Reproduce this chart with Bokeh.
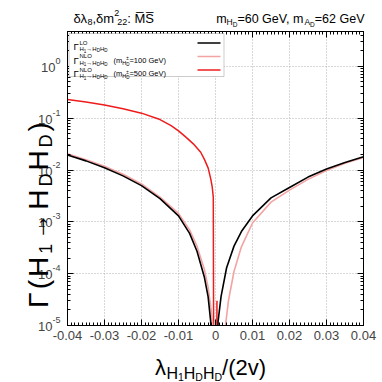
import numpy as np
from jinja2 import Template
from bokeh.plotting import figure
from bokeh.models import (Range1d, FixedTicker, LinearAxis, LogAxis, Label, LogScale,
                          BoxAnnotation, CustomJSTickFormatter)
from bokeh.embed import file_html
from bokeh.resources import INLINE

# ---------------- data ----------------
lam_lo = [-0.040, -0.035, -0.030, -0.025, -0.020, -0.015, -0.010, -0.007, -0.005,
          -0.003, -0.002, -0.0013, -0.0003, 0.0007, 0.0015, 0.003, 0.005, 0.007,
          0.010, 0.015, 0.020, 0.025, 0.030, 0.035, 0.040]
gam_lo = [1.95e-2, 1.50e-2, 1.10e-2, 7.7e-3, 5.0e-3, 2.8e-3, 1.3e-3, 6.0e-4, 2.7e-4,
          8.5e-5, 3.6e-5, 1.2e-5, 1e-8, 1.2e-5, 3.6e-5, 1.3e-4, 3.4e-4, 6.5e-4,
          1.3e-3, 2.9e-3, 4.6e-3, 7.3e-3, 1.05e-2, 1.40e-2, 1.80e-2]

lam_nlo100 = [-0.040, -0.035, -0.030, -0.025, -0.020, -0.015, -0.010, -0.007, -0.005,
              -0.003, -0.002, -0.001, -0.0006, 0.001, 0.0027, 0.0035, 0.005, 0.007,
              0.010, 0.015, 0.020, 0.025, 0.030, 0.035, 0.040]
gam_nlo100 = [2.05e-2, 1.58e-2, 1.18e-2, 8.3e-3, 5.4e-3, 3.0e-3, 1.45e-3, 7.0e-4, 3.4e-4,
              1.2e-4, 5.5e-5, 1.6e-5, 7e-6, 1e-8, 1.0e-5, 3.0e-5, 1.1e-4, 3.3e-4,
              9.5e-4, 2.4e-3, 4.1e-3, 6.6e-3, 9.8e-3, 1.35e-2, 1.75e-2]

lam_nlo500 = [-0.040, -0.035, -0.030, -0.025, -0.020, -0.015, -0.012, -0.010, -0.008,
              -0.006, -0.004, -0.003, -0.002, -0.0013, -0.0009, -0.0006, -0.0004]
gam_nlo500 = [0.23, 0.205, 0.18, 0.152, 0.125, 0.094, 0.072, 0.057, 0.043,
              0.032, 0.022, 0.016, 0.011, 0.0068, 0.0048, 0.003, 1e-8]
lam_nlo500_pos = [0.0002, 0.0004]
gam_nlo500_pos = [1e-8, 3e-5]

x_ticks = [-0.04, -0.03, -0.02, -0.01, 0.0, 0.01, 0.02, 0.03, 0.04]
x_tick_labels = ["-0.04", "-0.03", "-0.02", "-0.01", "0", "0.01", "0.02", "0.03", "0.04"]
y_exponents = [-5, -4, -3, -2, -1, 0]

C_LO = "#000000"
C_100 = "#f4a3a3"
C_500 = "#ee1c1c"
FONT = "Liberation Sans"

Y_BOT, Y_TOP = 1e-5, 4.7
F_L, F_R, F_T, F_B = 67, 363, 31, 325       # frame edges in page pixels
SIZE = 382

# ---------------- main figure ----------------
p = figure(width=SIZE, height=SIZE, x_range=Range1d(-0.04, 0.04),
           y_range=Range1d(Y_BOT, Y_TOP), y_axis_type="log",
           output_backend="svg", toolbar_location=None,
           min_border_left=F_L, min_border_right=SIZE - F_R, min_border_top=F_T,
           min_border_bottom=SIZE - F_B, background_fill_color="white",
           border_fill_color="white")
p.outline_line_color = "black"

x_minor = [round(v, 4) for v in np.arange(-0.04, 0.04001, 0.001)]
y_major = [10.0 ** k for k in y_exponents]
y_minor = [m * 10.0 ** k for k in range(-5, 1) for m in range(2, 10)]
xt = FixedTicker(ticks=x_ticks, minor_ticks=x_minor)
yt = FixedTicker(ticks=y_major, minor_ticks=y_minor)

fmt = CustomJSTickFormatter(args=dict(xvals=x_ticks, xlabs=x_tick_labels), code="""
const i = xvals.findIndex(t => Math.abs(t - tick) < 1e-9);
return i >= 0 ? xlabs[i] : "";
""")
blank = CustomJSTickFormatter(code="return '';")

def style_axis(ax):
    ax.major_tick_in = 6
    ax.major_tick_out = 0
    ax.minor_tick_in = 3
    ax.minor_tick_out = 0
    ax.axis_line_color = "black"
    ax.major_tick_line_color = "black"
    ax.minor_tick_line_color = "black"

p.xaxis.ticker = xt
p.xaxis.formatter = fmt
p.xaxis.major_label_text_font = FONT
p.xaxis.major_label_text_font_size = "13px"
p.xaxis.major_label_standoff = 5
p.yaxis.ticker = yt
p.yaxis.formatter = blank
style_axis(p.xaxis[0]); style_axis(p.yaxis[0])

top = LinearAxis(ticker=xt, formatter=blank)
right = LogAxis(ticker=yt, formatter=blank)
style_axis(top); style_axis(right)
p.add_layout(top, "above")
p.add_layout(right, "right")

p.xgrid.ticker = xt
p.ygrid.ticker = yt
for g in (p.xgrid[0], p.ygrid[0]):
    g.grid_line_color = "#b0b0b0"
    g.grid_line_dash = "1 2"
    g.grid_line_width = 1

# curves
p.line(lam_nlo500, gam_nlo500, line_color=C_500, line_width=1.5)
p.line(lam_nlo500_pos, gam_nlo500_pos, line_color=C_500, line_width=1.5)
p.line(lam_nlo100, gam_nlo100, line_color=C_100, line_width=1.6)
p.line(lam_lo, gam_lo, line_color=C_LO, line_width=1.6)

# legend box and samples (inside the frame; frame-relative screen units)
p.add_layout(BoxAnnotation(left=1.5, right=156.5, top=292, bottom=249,
                           left_units="screen", right_units="screen",
                           top_units="screen", bottom_units="screen",
                           fill_color="white", fill_alpha=1.0,
                           line_color="#555555", line_width=1))
rows = [(282.5, C_LO, "LO", None), (269.0, C_100, "NLO", "100"), (255.5, C_500, "NLO", "500")]
for yc, col, order, mass in rows:
    p.add_layout(BoxAnnotation(left=130, right=153, top=yc + 0.8, bottom=yc - 0.8,
                               left_units="screen", right_units="screen",
                               top_units="screen", bottom_units="screen",
                               fill_color=col, fill_alpha=1.0, line_alpha=0))

# ---------------- transparent text overlay figure (page-pixel coordinates) ----------------
dec = (np.log10(Y_TOP) - np.log10(Y_BOT)) / (F_B - F_T)
q = figure(width=SIZE, height=SIZE, x_range=Range1d(0, SIZE), y_range=Range1d(SIZE, 0),
           output_backend="svg", toolbar_location=None, min_border=0,
           x_axis_location=None, y_axis_location=None,
           background_fill_alpha=0, border_fill_alpha=0, outline_line_color=None)
q.grid.visible = False
q.extra_y_ranges = {"lg": Range1d(10 ** (np.log10(Y_BOT) - (SIZE - F_B) * dec),
                                  10 ** (np.log10(Y_TOP) + F_T * dec))}
q.extra_y_scales = {"lg": LogScale()}

EM = {' ': .278, '(': .333, ')': .333, ',': .278, '-': .333, '.': .278, '/': .278,
      ':': .278, '=': .584, 'A': .667, 'D': .722, 'G': .778, 'H': .722, 'L': .556,
      'M': .833, 'N': .722, 'O': .778, 'S': .667, 'V': .667, 'e': .556, 'm': .833,
      'v': .5, 'Γ': .556, 'δ': .556, 'λ': .52, '→': 1.0, '±': .584, '\u0305': 0.0}

def tw(s, size, track=0.0):
    return sum(EM.get(c, .556) for c in s) * size + track * len(s)

def total_width(pieces, track=0.0):
    return sum(pc[3] if len(pc) > 3 else tw(pc[0], pc[1], track) for pc in pieces)

def rich(x0, y0, pieces, rotated=False, track=0.0):
    s = 0.0
    for pc in pieces:
        text, size, dy = pc[0], pc[1], pc[2]
        adv = pc[3] if len(pc) > 3 else tw(text, size, track)
        if rotated:
            x, y, ang = x0 - dy, y0 - s, np.pi / 2
        else:
            x, y, ang = x0 + s, y0 - dy, 0.0
        q.add_layout(Label(x=x, y=y, text=text, text_font=FONT,
                           text_font_size=f"{size}px", text_baseline="alphabetic",
                           text_align="left", angle=ang, text_color="black"))
        s += adv

# y tick labels 10^k (placed through a log scale matching the main frame)
for k in y_exponents:
    e = str(k)
    we = tw(e, 9)
    q.add_layout(Label(x=F_L - 7 - we, y=10.0 ** k, y_range_name="lg", text="10",
                       text_font=FONT, text_font_size="13px", text_align="right",
                       text_baseline="alphabetic", y_offset=-1))
    q.add_layout(Label(x=F_L - 7 - we, y=10.0 ** k, y_range_name="lg", text=e,
                       text_font=FONT, text_font_size="9px", text_align="left",
                       text_baseline="alphabetic", y_offset=5.5))

# titles
rich(73, 18, [("δλ", 13, 0), ("8", 9, -3.5), (",δm", 13, 0), ("2", 9, 5.5, 3.0),
              ("22", 9, -3.5), (": ", 13, 0), ("M\u0305S\u0305", 13, 0)])
right_title = [("m", 12.5, 0), ("H", 8.5, -3.5), ("D", 6.5, -6), ("=60 GeV, m", 12.5, 0),
               ("A", 8.5, -3.5), ("D", 6.5, -6), ("=62 GeV", 12.5, 0)]
rich(364 - total_width(right_title), 18, right_title)

# x axis label
xl = [("λ", 22, 0), ("H", 16, -6), ("1", 10.5, -9), ("H", 16, -6), ("D", 10.5, -9),
      ("H", 16, -6), ("D", 10.5, -9), ("/(2v)", 22, 0)]
rich(210 - total_width(xl) / 2, 367, xl)

# y axis label (rotated), one character per piece to mimic the wide spacing
yl = [("Γ", 28, 0), ("(", 28, 0), ("H", 28, 0), ("1", 18, -7), ("→", 28, 0), ("H", 28, 0),
      ("D", 18, -7), ("H", 28, 0), ("D", 18, -7), (")", 28, 0)]
rich(38, 213 + total_width(yl, 3) / 2, yl, rotated=True, track=3)

# legend texts
sub = [("H", 6, -2.5), ("1", 4.5, -4), ("→H", 6, -2.5), ("D", 4.5, -4),
       ("H", 6, -2.5), ("D", 4.5, -4)]
for yc, col, order, mass in rows:
    yb = F_B - yc + 3.5
    rich(73, yb, [("Γ", 9.5, 0)])
    rich(79, yb, [(order, 6, 4)])
    rich(79, yb, sub)
    if mass:
        rich(113, yb, [("(m", 7.5, 0), ("H", 5.5, -2.5), ("±", 4.5, 1.5, 0.0),
                       ("D", 4.5, -4), ("=" + mass + " GeV)", 7.5, 0)])

# page template: both roots stacked at the same place (overlay)
TPL = Template("""<!DOCTYPE html>
<html lang="en">
<head>
<meta charset="utf-8">
<title>{{ title }}</title>
{{ bokeh_css }}
{{ bokeh_js }}
<style>
html, body { margin: 0; padding: 0; }
.ov { position: relative; width: 382px; height: 382px; overflow: hidden; }
.ov > div, .ov > div > * { position: absolute !important; left: 0 !important; top: 0 !important; }
</style>
</head>
<body>
<div class="ov">
{{ plot_div }}
</div>
{{ plot_script }}
</body>
</html>""")

open("out.html", "w").write(file_html([p, q], INLINE, title="plot", template=TPL))
